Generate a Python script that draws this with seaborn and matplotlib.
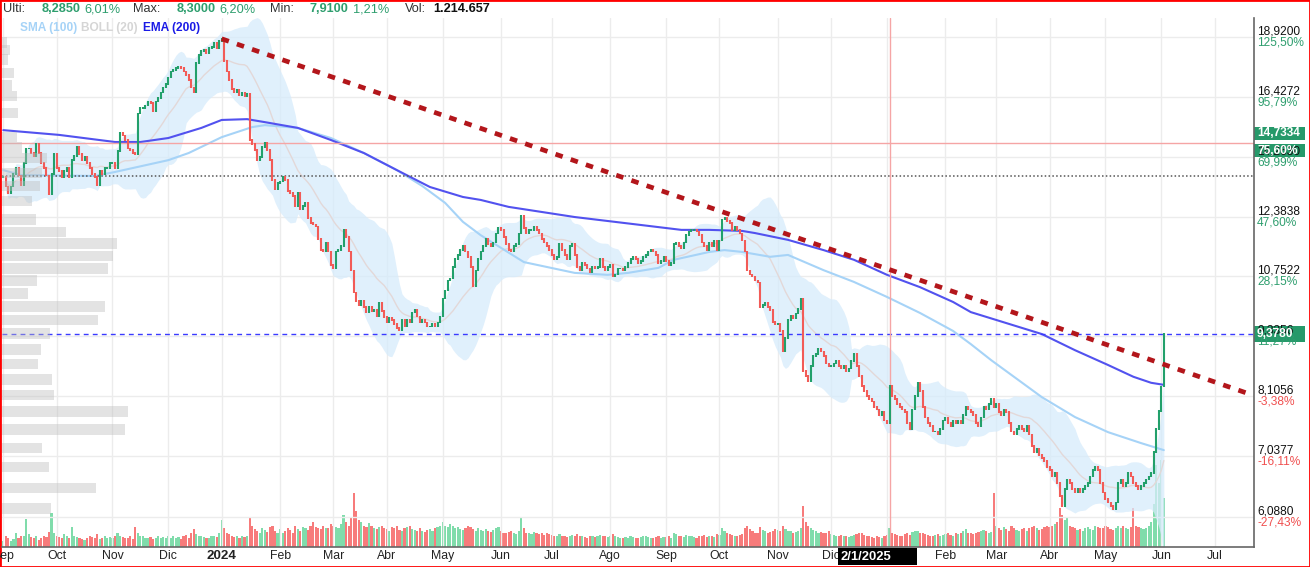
import numpy as np
import pandas as pd
import matplotlib
matplotlib.use("Agg")
import matplotlib.pyplot as plt
import matplotlib.transforms as mtransforms
from matplotlib.patches import Rectangle
import seaborn as sns

# daily closes, one row per month (Sep 2023 -> Jun 2025)
closes = [
    13.6, 13.3, 13.1, 13.3, 13.7, 13.9, 13.65, 13.35, 14.05, 14.55, 14.55, 14.4, 14.3, 14.7, 14.4, 14.05, 13.9, 13.65, 13.05, 13.7, 14.35,
    13.9, 13.8, 13.6, 13.8, 13.9, 13.6, 14.15, 14.3, 14.6, 14.35, 14.15, 14.25, 14.05, 13.9, 13.7, 13.6, 13.35, 13.8, 13.7, 13.9, 13.9, 14.05,
    14.05, 13.9, 14.45, 15.1, 15.0, 14.85, 14.55, 14.5, 14.4, 14.35, 15.8, 16.0, 16.0, 16.1, 16.25, 16.2, 15.9, 16.25, 16.4, 16.6, 16.8, 16.95,
    17.2, 17.45, 17.5, 17.6, 17.65, 17.6, 17.45, 17.3, 17.1, 16.8, 16.6, 17.8, 18.15, 18.3, 18.35, 18.2, 18.45, 18.5, 18.65, 18.45, 18.75,
    18.85, 17.9, 17.45, 17.1, 16.75, 16.6, 16.7, 16.5, 16.6, 16.45, 16.55, 14.85, 14.7, 14.5, 14.15, 14.25, 14.6, 14.75, 14.5, 14.15, 13.5, 13.2, 13.4,
    13.45, 13.6, 13.5, 13.15, 13.1, 13.0, 12.7, 13.1, 12.6, 12.7, 12.8, 12.35, 12.2, 12.15, 12.1, 11.75, 11.45, 11.4, 11.65, 11.4, 11.05,
    10.95, 11.4, 11.45, 11.55, 12.0, 11.8, 11.4, 10.9, 10.35, 10.15, 10.05, 10.15, 10.0, 9.87, 10.0, 9.9, 9.93, 9.78, 10.1, 9.9, 9.76,
    9.64, 9.75, 9.7, 9.6, 9.52, 9.47, 9.7, 9.55, 9.7, 9.64, 9.87, 9.93, 9.78, 9.64, 9.7, 9.64, 9.55, 9.55, 9.6, 9.55, 9.64, 9.78,
    10.2, 10.4, 10.65, 10.7, 11.0, 11.2, 11.3, 11.45, 11.55, 11.4, 11.25, 11.0, 10.5, 10.9, 11.2, 11.4, 11.55, 11.75, 11.6, 11.55, 11.65, 11.9, 12.05,
    12.0, 11.8, 11.6, 11.45, 11.4, 11.55, 11.6, 11.9, 12.4, 12.05, 11.9, 12.0, 12.0, 12.1, 12.0, 11.9, 11.75, 11.65, 11.55, 11.45,
    11.3, 11.2, 11.25, 11.6, 11.45, 11.3, 11.2, 11.55, 11.6, 11.3, 11.0, 10.9, 11.1, 11.05, 10.95, 10.85, 11.0, 10.95, 11.0, 11.2, 11.0, 10.9, 11.0,
    11.05, 10.75, 10.8, 10.95, 10.95, 10.9, 11.0, 11.1, 11.2, 11.25, 11.2, 11.1, 11.15, 11.25, 11.3, 11.4, 11.45, 11.4, 11.3, 11.1, 11.15, 11.25,
    11.15, 11.05, 11.1, 11.6, 11.65, 11.55, 11.5, 11.65, 11.85, 11.95, 12.0, 12.0, 11.95, 11.85, 11.65, 11.55, 11.45, 11.65, 11.55, 11.7, 11.45,
    11.7, 12.3, 12.35, 12.25, 12.2, 12.0, 12.1, 12.0, 11.9, 11.7, 11.4, 10.9, 10.8, 10.75, 10.65, 10.6, 10.0, 10.05, 10.1, 10.0, 9.93, 9.65, 9.6,
    9.6, 9.45, 9.0, 9.3, 9.7, 9.8, 9.75, 9.85, 9.95, 10.2, 8.6, 8.5, 8.4, 8.7, 8.9, 8.95, 9.05, 9.0, 8.9, 8.75, 8.7,
    8.7, 8.75, 8.8, 8.7, 8.65, 8.7, 8.6, 8.65, 8.8, 8.95, 8.7, 8.5, 8.3, 8.2, 8.1, 8.05, 8.0, 7.9, 7.85, 7.75, 7.8, 7.65,
    7.6, 8.3, 8.1, 8.05, 7.95, 7.9, 7.85, 7.8, 7.6, 7.5, 7.85, 8.1, 8.35, 8.2, 7.9, 7.7, 7.6, 7.55, 7.45, 7.45, 7.4, 7.5, 7.65,
    7.7, 7.6, 7.55, 7.65, 7.6, 7.65, 7.6, 7.75, 7.9, 7.85, 7.8, 7.75, 7.6, 7.55, 7.7, 7.9, 7.85, 7.95, 8.05, 7.9,
    7.95, 7.8, 7.75, 7.85, 7.8, 7.6, 7.45, 7.4, 7.5, 7.55, 7.5, 7.45, 7.55, 7.4, 7.2, 7.1, 7.15, 7.05, 7.0, 6.95, 6.85,
    6.8, 6.7, 6.75, 6.6, 6.4, 6.25, 6.5, 6.65, 6.6, 6.5, 6.45, 6.5, 6.45, 6.5, 6.55, 6.6, 6.7, 6.8, 6.85, 6.8, 6.6, 6.45,
    6.35, 6.3, 6.25, 6.2, 6.3, 6.6, 6.65, 6.55, 6.6, 6.75, 6.7, 6.6, 6.55, 6.5, 6.55, 6.6, 6.65, 6.7, 6.75, 7.1, 7.5, 7.815,
    8.285, 9.378,
]

# daily volume, thousands of shares
volumes = [
    90, 150, 120, 80, 110, 200, 130, 160, 150, 390, 180, 140, 120, 150, 100, 130, 160, 140, 210, 470, 190,
    160, 140, 120, 180, 150, 130, 280, 160, 140, 120, 110, 100, 130, 150, 140, 120, 180, 110, 120, 150, 130, 140,
    120, 150, 200, 160, 140, 130, 120, 150, 110, 280, 200, 160, 150, 130, 120, 140, 110, 130, 150, 120, 140, 130,
    150, 130, 160, 120, 140, 110, 150, 170, 130, 200, 250, 180, 160, 150, 140, 130, 120, 150, 160, 140, 200,
    380, 260, 200, 180, 150, 140, 160, 130, 150, 140, 160, 420, 300, 250, 220, 200, 260, 240, 210, 280, 300, 220, 200,
    250, 200, 220, 260, 240, 200, 300, 250, 220, 280, 260, 240, 300, 350, 280, 260, 250, 300, 270, 260, 320,
    300, 280, 260, 320, 450, 350, 300, 420, 750, 500, 380, 350, 300, 280, 330, 300, 260, 250, 280, 300, 260,
    250, 230, 280, 260, 300, 240, 220, 260, 280, 300, 250, 240, 220, 260, 230, 210, 240, 250, 220, 260, 280, 300,
    350, 300, 280, 320, 300, 260, 280, 250, 240, 260, 300, 280, 250, 230, 260, 240, 220, 250, 230, 210, 240, 260, 280,
    220, 200, 190, 210, 230, 200, 180, 220, 400, 260, 200, 190, 180, 210, 200, 180, 190, 170, 200, 180,
    170, 160, 150, 180, 160, 150, 140, 160, 170, 150, 180, 160, 150, 140, 130, 150, 160, 140, 150, 170, 160, 150, 140,
    150, 180, 160, 140, 130, 120, 140, 130, 150, 140, 120, 130, 140, 150, 160, 140, 130, 120, 140, 150, 130, 140,
    140, 150, 130, 200, 180, 160, 150, 140, 170, 160, 150, 140, 130, 150, 160, 170, 140, 150, 160, 140, 180,
    170, 260, 220, 200, 180, 170, 160, 150, 170, 180, 260, 300, 250, 220, 200, 190, 280, 240, 220, 200, 210, 230, 250,
    240, 220, 300, 250, 230, 220, 200, 210, 220, 260, 580, 350, 300, 260, 240, 220, 200, 210, 190, 200, 220,
    180, 170, 160, 150, 170, 160, 150, 140, 160, 170, 180, 200, 190, 170, 160, 150, 140, 130, 150, 140, 120, 160,
    170, 260, 200, 180, 170, 160, 150, 180, 200, 170, 210, 230, 220, 200, 190, 180, 170, 160, 150, 170, 180, 160, 170,
    180, 200, 170, 160, 190, 180, 200, 220, 250, 200, 190, 180, 200, 210, 220, 240, 230, 200, 210, 750,
    300, 260, 240, 280, 250, 230, 300, 260, 240, 220, 250, 270, 230, 260, 280, 300, 260, 240, 250, 280, 300,
    280, 300, 320, 350, 550, 450, 380, 400, 300, 280, 260, 240, 250, 230, 260, 280, 250, 240, 300, 280, 260, 270,
    300, 280, 250, 240, 260, 290, 270, 300, 260, 250, 280, 550, 300, 280, 260, 250, 270, 300, 350, 600, 1150, 900,
    1214.657, 690,
]

first_day = "2023-09-01"
axis_end = "2025-07-31"

sma_dates = ["2023-09-01", "2023-09-12", "2023-10-23", "2023-11-02", "2023-12-01", "2023-12-13", "2024-01-01",
             "2024-01-17", "2024-01-24", "2024-02-12", "2024-02-29", "2024-03-19", "2024-04-05", "2024-04-19",
             "2024-05-02", "2024-05-13", "2024-05-22", "2024-06-14", "2024-07-12", "2024-07-31", "2024-08-12",
             "2024-08-28", "2024-09-05", "2024-09-25", "2024-10-03", "2024-10-14", "2024-10-29", "2024-11-07",
             "2024-11-27", "2024-12-13", "2025-01-01", "2025-01-20", "2025-02-06", "2025-02-17", "2025-02-27",
             "2025-03-27", "2025-04-15", "2025-05-02", "2025-05-21", "2025-06-03"]
sma_values = [13.82, 13.66, 13.63, 13.76, 14.15, 14.39, 14.94, 15.30, 15.37, 15.27, 14.91, 14.39, 13.82, 13.31,
              12.79, 12.23, 11.85, 11.12, 10.84, 10.79, 10.84, 10.97, 11.18, 11.39, 11.44, 11.39, 11.26, 11.31,
              10.91, 10.61, 10.24, 9.86, 9.45, 9.16, 8.82, 8.08, 7.71, 7.44, 7.25, 7.13]

ema_dates = ["2023-09-01", "2023-10-03", "2023-11-02", "2023-11-16", "2023-12-01", "2023-12-20", "2024-01-01",
             "2024-01-15", "2024-01-24", "2024-02-12", "2024-02-29", "2024-03-19", "2024-04-05", "2024-04-24",
             "2024-05-13", "2024-05-22", "2024-06-06", "2024-07-12", "2024-08-19", "2024-09-10", "2024-09-25",
             "2024-10-14", "2024-10-21", "2024-11-07", "2024-11-27", "2024-12-13", "2025-01-01", "2025-01-20",
             "2025-02-06", "2025-02-17", "2025-03-27", "2025-04-15", "2025-05-02", "2025-05-16", "2025-05-27",
             "2025-06-03"]
ema_values = [15.19, 15.02, 14.77, 14.77, 14.91, 15.27, 15.56, 15.59, 15.48, 15.27, 14.84, 14.39, 13.82, 13.28,
              12.97, 12.88, 12.67, 12.37, 12.14, 12.00, 12.00, 11.97, 11.91, 11.72, 11.44, 11.18, 10.79, 10.48,
              10.12, 9.88, 9.38, 9.03, 8.72, 8.48, 8.36, 8.32]

# volume profile (price level, traded volume)
profile_price = [18.68, 18.36, 17.95, 17.39, 16.88, 16.46, 15.82, 14.94, 14.59, 14.22, 13.73, 13.31, 12.85,
                 12.30, 11.94, 11.62, 11.28, 10.96, 10.65, 10.33, 10.01, 9.70, 9.39, 9.04, 8.74, 8.43, 8.12,
                 7.81, 7.49, 7.17, 6.85, 6.52, 6.21]
profile_vol = [5, 8, 6, 12, 10, 15, 16, 15, 20, 45, 40, 38, 30,
               34, 64, 115, 111, 106, 35, 26, 103, 96, 48, 39, 36, 50, 52,
               126, 123, 40, 47, 94, 49]

trend_dates = ["2024-01-01", "2025-07-22"]
trend_prices = [18.85, 8.12]

grid_prices = [18.92, 16.4272, 14.263, 12.3838, 10.7522, 9.3356, 8.1056, 7.0377, 6.088]
grid_pcts = ["125,50%", "95,79%", "69,99%", "47,60%", "28,15%", "11,27%", "-3,38%", "-16,11%", "-27,43%"]

last_price = 9.378
level_price = 14.7334
level_pct = "75,60%"
dotted_level = 13.63
cursor_date = "2025-01-02"
cursor_label = "2/1/2025"
month_names = ["Ene", "Feb", "Mar", "Abr", "May", "Jun", "Jul", "Ago", "Sep", "Oct", "Nov", "Dic"]

GREEN = "#22a06b"
RED = "#f25b57"
TXT_GREEN = "#2e9e6e"

sns.set_theme(style="white")
plt.rcParams["font.family"] = ["Liberation Sans", "DejaVu Sans"]

W, H = 1310, 567
fig = plt.figure(figsize=(W / 100, H / 100), dpi=100)
fig.patch.set_facecolor("white")

def fx(x):
    return x / W

def fy(y):
    return 1 - y / H

pos = [fx(2), fy(547), fx(1252), (547 - 18) / H]
ax_vol = fig.add_axes(pos, zorder=0)
ax = fig.add_axes(pos, zorder=1, sharex=ax_vol)
ax.patch.set_visible(False)
ax.set_yscale("log")
ax_prof = fig.add_axes(pos, zorder=2, sharey=ax)
ax_prof.patch.set_visible(False)

cal = pd.bdate_range(first_day, axis_end)
cal_idx = pd.Index(cal)
n = len(closes)
idx = np.arange(n)

def to_pos(dates):
    return cal_idx.get_indexer(pd.to_datetime(dates))

c = np.array(closes)
o = np.r_[c[0], c[:-1]]
up = c >= o

ax.set_xlim(-0.5, 492.5)
ax.set_ylim(5.671, 19.80)

# grid
mstart = [i for i in range(len(cal)) if i == 0 or cal[i].month != cal[i - 1].month]
for i in mstart:
    ax.axvline(i, color="#ececec", lw=1, zorder=0)
for p in grid_prices:
    ax.axhline(p, color="#ececec", lw=1, zorder=0)

# bollinger (20)
s = pd.Series(c)
mid = s.rolling(20, min_periods=2).mean()
sd = s.rolling(20, min_periods=2).std(ddof=0)
ax.fill_between(idx, mid - 2 * sd, mid + 2 * sd, color="#d6ebfb", alpha=0.75, lw=0, zorder=1)
ax.plot(idx, mid, color="#e3d8d8", lw=1, zorder=1.5)

sns.lineplot(x=to_pos(sma_dates), y=sma_values, ax=ax, color="#a6d3f7", lw=1.5, zorder=2)
sns.lineplot(x=to_pos(ema_dates), y=ema_values, ax=ax, color="#5252ef", lw=1.5, zorder=2)

# candles
lo = np.minimum(o, c) / 1.002
hi = np.maximum(o, c) * 1.002
ax.vlines(idx, lo, hi, colors=np.where(up, GREEN, RED), lw=1.5, zorder=3)

# levels
ax.axhline(level_price, color="#f5a5a5", lw=1, zorder=2.5)
ax.axhline(dotted_level, color="#555555", lw=1.1, ls=(0, (1, 1.5)), zorder=2.5)
ax.axhline(last_price, color="#3a3aff", lw=1, ls=(0, (3.5, 3)), zorder=2.5)
cur = to_pos([cursor_date])[0]
ax.axvline(cur, color="#f5a5a5", lw=1, zorder=2.5)

# trend line
ax.plot(to_pos(trend_dates), trend_prices, color="#b3161b", lw=3.4, ls=(0, (1.6, 1.8)),
        solid_capstyle="butt", dash_capstyle="butt", zorder=4)

# volume
vcol = np.where(up, "#80dcab", "#f77b7b")
ax_vol.bar(idx, volumes, width=0.85, color=vcol, lw=0)
ax_vol.set_ylim(0, max(volumes) * 6.1)
ax_vol.axis("off")

# volume profile
pp = np.array(profile_price)
ax_prof.barh(pp, profile_vol, height=pp * 0.025, color="#bdbdbd", alpha=0.42, lw=0)
ax_prof.set_xlim(0, max(profile_vol) / 0.1006)
ax_prof.axis("off")
ax.set_ylim(5.671, 19.80)

# axes frame and month labels
for side in ["left", "top"]:
    ax.spines[side].set_visible(False)
for side in ["right", "bottom"]:
    ax.spines[side].set_color("#666666")
    ax.spines[side].set_linewidth(1.2)
ax.set_yticks([])
ax.yaxis.set_minor_locator(matplotlib.ticker.NullLocator())
labels = []
for i in mstart:
    d = cal[i]
    labels.append(str(d.year) if d.month == 1 else month_names[d.month - 1])
ax.set_xticks(mstart)
ax.set_xticklabels(labels, fontsize=8.8, color="#222222")
ax.tick_params(axis="x", length=0, pad=2.5)
for t, i in zip(ax.get_xticklabels(), mstart):
    if cal[i].month == 1:
        t.set_fontweight("bold")
        t.set_fontsize(9.6)
ax_vol.set_xlim(-0.5, 492.5)

fig.canvas.draw()
ident = mtransforms.IdentityTransform()

def ypix(price):
    return ax.transData.transform((0, price))[1]

# right price scale
for p, pct in zip(grid_prices, grid_pcts):
    yp = ypix(p)
    fig.text(1257, yp + 5.5, f"{p:.4f}".replace(".", ","), transform=ident, fontsize=8.6,
             color="#111111", va="center", ha="left")
    fig.text(1257, yp - 5.5, pct, transform=ident, fontsize=8.6,
             color=TXT_GREEN if not pct.startswith("-") else "#f05050", va="center", ha="left")

def tag(ymid, h, text):
    fig.add_artist(Rectangle((1254, ymid - h / 2), 51, h, transform=ident,
                             facecolor="#26996a", edgecolor="none"))
    fig.text(1257, ymid, text, transform=ident, fontsize=8.6, color="white",
             va="center", ha="left", fontweight="bold")

yl = ypix(level_price)
tag(yl + 10, 13, f"{level_price:.4f}".replace(".", ","))
tag(yl - 7.5, 13, level_pct)
tag(ypix(last_price), 16, f"{last_price:.4f}".replace(".", ","))

# cursor date box on the time axis
xc = ax.transData.transform((cur, 1))[0]
fig.add_artist(Rectangle((xc - 52, 2), 79, 17, transform=ident, facecolor="black", edgecolor="none", zorder=5))
fig.text(xc - 49, 10.5, cursor_label, transform=ident, fontsize=9.4, color="white",
         fontweight="bold", va="center", ha="left", zorder=6)

# header
hy = fy(9)
head = [(3, "Ulti:", "#333333", "normal"), (42, "8,2850", TXT_GREEN, "bold"), (84, "6,01%", TXT_GREEN, "normal"),
        (133, "Max:", "#333333", "normal"), (177, "8,3000", TXT_GREEN, "bold"), (219, "6,20%", TXT_GREEN, "normal"),
        (270, "Min:", "#333333", "normal"), (310, "7,9100", TXT_GREEN, "bold"), (353, "1,21%", TXT_GREEN, "normal"),
        (405, "Vol:", "#333333", "normal"), (433, "1.214.657", "#111111", "bold")]
for x, t, col, w in head:
    fig.text(fx(x), hy, t, fontsize=9.2, color=col, fontweight=w, va="center", ha="left")

ly = fy(28)
for x, t, col in [(20, "SMA (100)", "#a6d3f7"), (81, "BOLL (20)", "#d5d5d5"), (143, "EMA (200)", "#1a1ae6")]:
    fig.text(fx(x), ly, t, fontsize=8.6, color=col, fontweight="bold", va="center", ha="left")

fig.add_artist(Rectangle((0, 0), 1, 1, transform=fig.transFigure, fill=False, edgecolor="#ff0000", lw=2))

fig.savefig("out.png", dpi=100)
